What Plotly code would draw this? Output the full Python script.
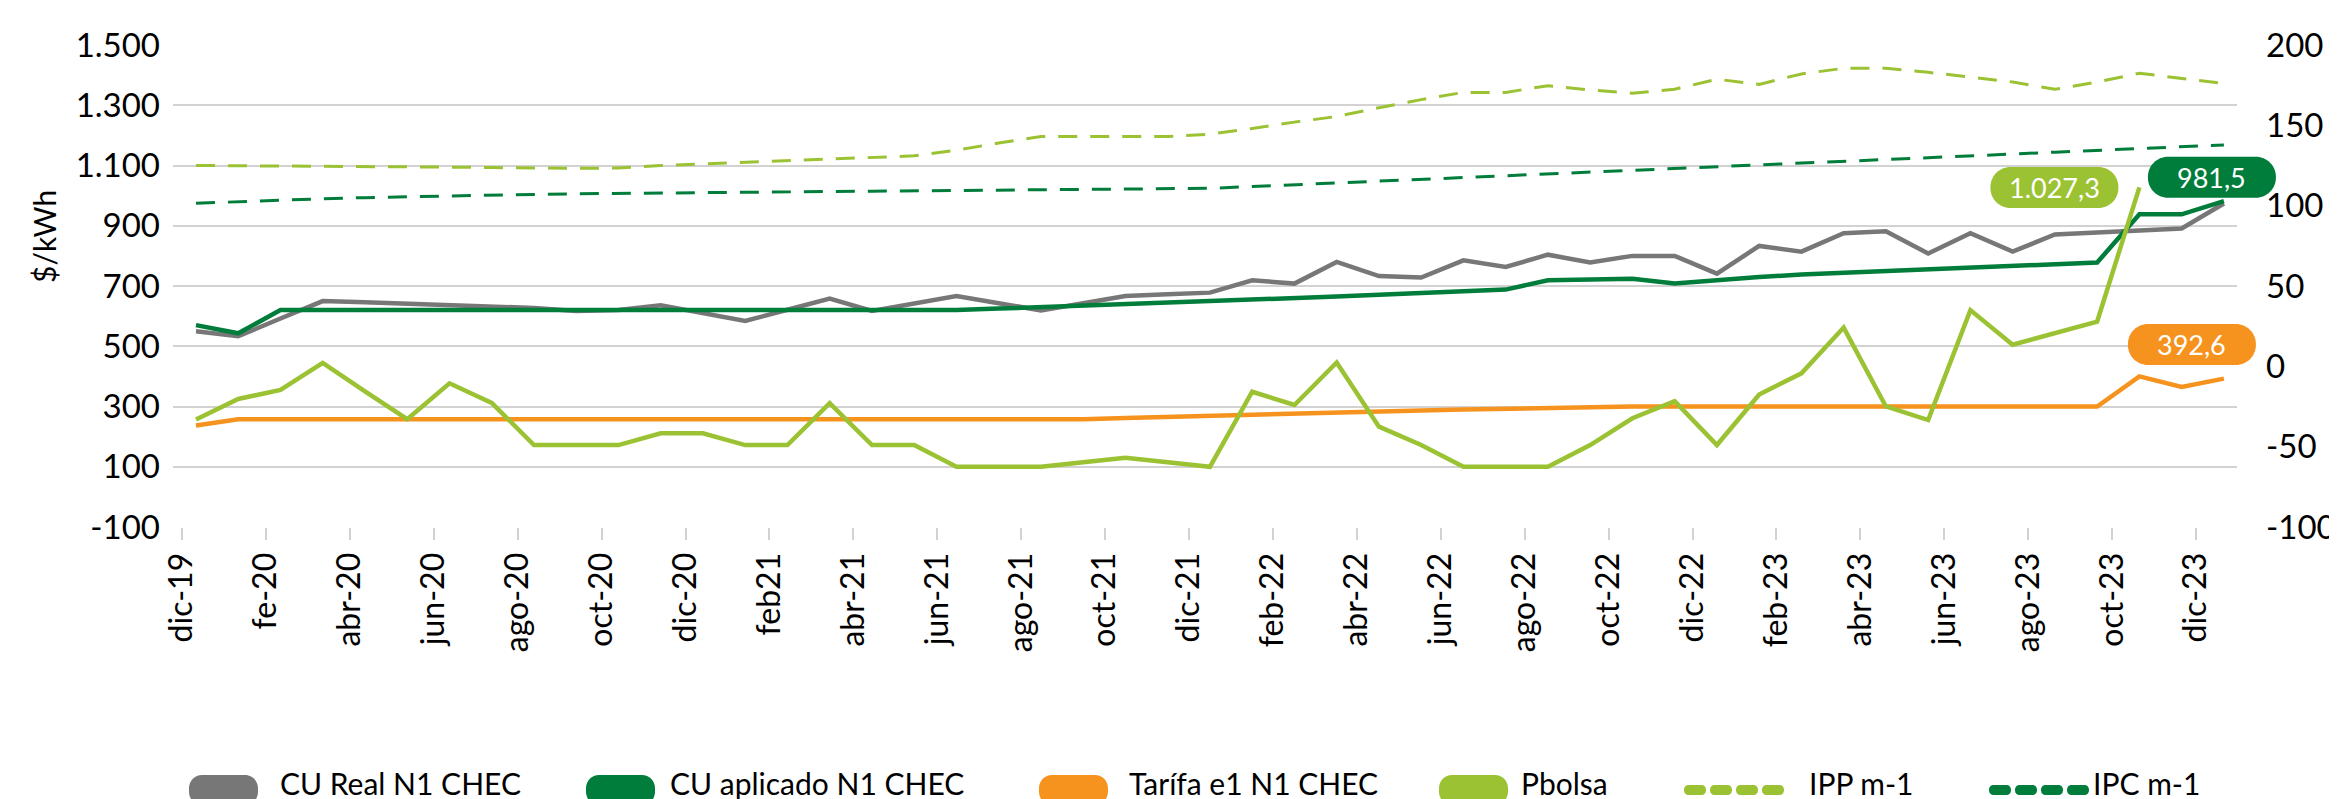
import plotly.graph_objects as go

# ---------------- data ----------------
month_names = ["ene", "feb", "mar", "abr", "may", "jun", "jul", "ago", "sep", "oct", "nov", "dic"]
months = ["dic-19"] + [f"{m}-{y}" for y in ("20", "21", "22", "23") for m in month_names]

tick_labels = ["dic-19", "fe-20", "abr-20", "jun-20", "ago-20", "oct-20", "dic-20", "feb21",
               "abr-21", "jun-21", "ago-21", "oct-21", "dic-21", "feb-22", "abr-22", "jun-22",
               "ago-22", "oct-22", "dic-22", "feb-23", "abr-23", "jun-23", "ago-23", "oct-23", "dic-23"]

cu_real = [550, 533, 592, 650, 646, 642, 638, 633, 627, 617, 620, 636, 610, 584, 621, 658, 617,
           642, 667, 643, 619, 643, 667, 673, 678, 719, 708, 780, 733, 728, 785, 763, 804, 778,
           800, 800, 741, 833, 814, 875, 882, 808, 875, 814, 871, 878, 884, 891, 974]

cu_aplicado = [570, 543, 620, 620, 620, 620, 620, 620, 620, 620, 620, 620, 620, 620, 620, 620,
               620, 620, 620, 625, 630, 634, 638, 642, 647, 653, 659, 665, 671, 677, 683, 688,
               719, 722, 724, 708, 720, 730, 738, 744, 750, 756, 762, 767, 772, 778, 938, 938, 981.5]

tarifa = [237, 258, 258, 258, 258, 258, 258, 258, 258, 258, 258, 258, 258, 258, 258, 258, 258,
          258, 258, 258, 258, 258, 262, 266, 270, 274, 278, 281, 284, 287, 290, 293, 296, 299,
          300, 300, 300, 300, 300, 300, 300, 300, 300, 300, 300, 300, 400, 365, 392.6]

pbolsa = [257, 325, 355, 445, 350, 258, 377, 312, 172, 172, 172, 211, 211, 172, 172, 311, 172,
          172, 100, 100, 100, 115, 130, 115, 100, 349, 305, 446, 233, 172, 100, 100, 100, 172,
          261, 318, 172, 340, 410, 562, 300, 255, 620, 505, 543, 582, 1027.3]

ipp = [125.0, 124.9, 124.8, 124.6, 124.4, 124.2, 124.0, 123.7, 123.4, 123.2, 123.5, 125.0, 126.0,
       127.0, 128.0, 129.0, 130.0, 131.0, 134.5, 139.0, 143.0, 143.0, 143.0, 143.0, 144.5, 148.0,
       152.0, 155.5, 161.0, 166.0, 170.5, 170.5, 174.7, 172.0, 170.0, 172.5, 178.7, 175.5, 182.0,
       185.5, 185.5, 183.0, 180.0, 177.0, 172.4, 177.0, 182.4, 179.0, 176.0]

ipc = [101.5, 102.5, 103.5, 104.3, 105.0, 105.6, 106.1, 106.6, 107.0, 107.4, 107.7, 108.0, 108.2,
       108.4, 108.6, 108.8, 109.0, 109.2, 109.4, 109.6, 109.8, 110.0, 110.3, 110.5, 110.8, 111.9,
       113.0, 114.2, 115.3, 116.4, 117.5, 118.6, 119.8, 120.9, 122.0, 123.1, 124.2, 125.3, 126.4,
       127.6, 128.7, 129.8, 131.0, 132.1, 133.3, 134.4, 135.5, 136.7, 137.8]

left_ticks = [-100, 100, 300, 500, 700, 900, 1100, 1300, 1500]
left_ticktext = ["-100", "100", "300", "500", "700", "900", "1.100", "1.300", "1.500"]
right_ticks = [-100, -50, 0, 50, 100, 150, 200]
right_ticktext = ["-100", "-50", "0", "50", "100", "150", "200"]

# ---------------- style ----------------
W, H = 2337, 799
L, R, T, B = 165, 108, 37, 280
PW, PH = W - L - R, H - T - B
XR = [-0.544, 48.31]
YL = [-100, 1500]
TICK0, TICK_STEP = -0.331, 1.9863
FONT = "Lato"

GRAY = "#777777"
DGREEN = "#007D3A"
ORANGE = "#F6931E"
LGREEN = "#9BC232"
GRID = "#D2D2D2"

x = list(range(len(months)))

fig = go.Figure()
fig.add_trace(go.Scatter(x=x, y=cu_real, name="CU Real N1 CHEC", mode="lines",
                         line=dict(color=GRAY, width=4.5), customdata=months, showlegend=False))
fig.add_trace(go.Scatter(x=x, y=cu_aplicado, name="CU aplicado N1 CHEC", mode="lines",
                         line=dict(color=DGREEN, width=4.5), customdata=months, showlegend=False))
fig.add_trace(go.Scatter(x=x, y=tarifa, name="Tarífa e1 N1 CHEC", mode="lines",
                         line=dict(color=ORANGE, width=4.5), customdata=months, showlegend=False))
fig.add_trace(go.Scatter(x=x[:len(pbolsa)], y=pbolsa, name="Pbolsa", mode="lines",
                         line=dict(color=LGREEN, width=4.5), customdata=months, showlegend=False))
fig.add_trace(go.Scatter(x=x, y=ipp, name="IPP m-1", mode="lines", yaxis="y2",
                         line=dict(color=LGREEN, width=3, dash="19px,13px"), customdata=months,
                         showlegend=False))
fig.add_trace(go.Scatter(x=x, y=ipc, name="IPC m-1", mode="lines", yaxis="y2",
                         line=dict(color=DGREEN, width=3, dash="19px,13px"), customdata=months,
                         showlegend=False))


def to_px(k, v):
    return (L + (k - XR[0]) / (XR[1] - XR[0]) * PW,
            T + (YL[1] - v) / (YL[1] - YL[0]) * PH)


def paper(xp, yp):
    return (xp - L) / PW, (T + PH - yp) / PH


def pill_path(x0, x1, y0, y1, r):
    def P(a, b):
        px_, py_ = paper(a, b)
        return f"{px_:.5f},{py_:.5f}"
    k = 0.45  # control-point pull for rounder corners (cubic)
    return (f"M{P(x0 + r, y0)} L{P(x1 - r, y0)} "
            f"C{P(x1 - r * k, y0)} {P(x1, y0 + r * k)} {P(x1, y0 + r)} "
            f"L{P(x1, y1 - r)} C{P(x1, y1 - r * k)} {P(x1 - r * k, y1)} {P(x1 - r, y1)} "
            f"L{P(x0 + r, y1)} C{P(x0 + r * k, y1)} {P(x0, y1 - r * k)} {P(x0, y1 - r)} "
            f"L{P(x0, y0 + r)} C{P(x0, y0 + r * k)} {P(x0 + r * k, y0)} {P(x0 + r, y0)} Z")


shapes = []
annotations = []


def fmt_es(v):
    s = f"{v:,.1f}"
    return s.replace(",", "X").replace(".", ",").replace("X", ".")


# data labels (anchored to the last point of each series)
labels = [
    (len(pbolsa) - 1, pbolsa[-1], LGREEN, -85, 0),
    (len(cu_aplicado) - 1, cu_aplicado[-1], DGREEN, -12, -24),
    (len(tarifa) - 1, tarifa[-1], ORANGE, -32, -34),
]
BW, BH = 128, 41
for k, v, col, dx, dy in labels:
    cx, cy = to_px(k, v)
    cx += dx
    cy += dy
    shapes.append(dict(type="path", xref="paper", yref="paper",
                       path=pill_path(cx - BW / 2, cx + BW / 2, cy - BH / 2, cy + BH / 2, 20),
                       fillcolor=col, line=dict(width=0), layer="above"))
    ax_, ay_ = paper(cx, cy)
    annotations.append(dict(xref="paper", yref="paper", x=ax_, y=ay_, text=fmt_es(v),
                            showarrow=False, xanchor="center", yanchor="middle",
                            font=dict(family=FONT, size=27, color="white")))

# manual legend
LEG_Y = 782
LEG_TXT_Y = 775
legend_items = [
    ("CU Real N1 CHEC", GRAY, "solid", 181, 270),
    ("CU aplicado N1 CHEC", DGREEN, "solid", 578, 660),
    ("Tarífa e1 N1 CHEC", ORANGE, "solid", 1031, 1119),
    ("Pbolsa", LGREEN, "solid", 1431, 1511),
    ("IPP m-1", LGREEN, "dash", 1676, 1799),
    ("IPC m-1", DGREEN, "dash", 1981, 2083),
]
for name, col, kind, sx, tx in legend_items:
    if kind == "solid":
        shapes.append(dict(type="path", xref="paper", yref="paper",
                           path=pill_path(sx, sx + 69, LEG_Y - 15, LEG_Y + 15, 13),
                           fillcolor=col, line=dict(width=0)))
    else:
        for i in range(4):
            x0 = sx + i * 26
            shapes.append(dict(type="path", xref="paper", yref="paper",
                               path=pill_path(x0, x0 + 22, LEG_Y - 5, LEG_Y + 5, 4.5),
                               fillcolor=col, line=dict(width=0)))
    ax_, ay_ = paper(tx, LEG_TXT_Y)
    annotations.append(dict(xref="paper", yref="paper", x=ax_, y=ay_, text=name,
                            showarrow=False, xanchor="left", yanchor="middle",
                            font=dict(family=FONT, size=30, color="black")))

# left axis title
tx_, ty_ = paper(36, 229)
annotations.append(dict(xref="paper", yref="paper", x=tx_, y=ty_, text="$/kWh", textangle=-90,
                        showarrow=False, xanchor="center", yanchor="middle",
                        font=dict(family=FONT, size=30, color="black")))

fig.update_layout(
    width=W, height=H,
    margin=dict(l=L, r=R, t=T, b=B, autoexpand=False),
    paper_bgcolor="white", plot_bgcolor="white",
    font=dict(family=FONT, color="black"),
    showlegend=False,
    xaxis=dict(range=XR, tickmode="array",
               tickvals=[TICK0 + TICK_STEP * j for j in range(len(tick_labels))],
               ticktext=tick_labels, tickangle=-90, ticks="outside", ticklen=12, tickwidth=2,
               tickcolor=GRID, showgrid=False, zeroline=False, showline=False,
               tickfont=dict(family=FONT, size=32, color="black")),
    yaxis=dict(range=YL, tickmode="array", tickvals=left_ticks, ticktext=left_ticktext,
               showgrid=True, gridcolor=GRID, gridwidth=2, zeroline=False, showline=False,
               ticks="", ticklabelstandoff=12,
               tickfont=dict(family=FONT, size=33, color="black")),
    yaxis2=dict(range=[-100, 200], overlaying="y", side="right", tickmode="array",
                tickvals=right_ticks, ticktext=right_ticktext, showgrid=False,
                zeroline=False, showline=False, ticks="", ticklabelstandoff=28,
                tickfont=dict(family=FONT, size=33, color="black")),
    shapes=shapes,
    annotations=annotations,
)

fig.write_html("out.html")
